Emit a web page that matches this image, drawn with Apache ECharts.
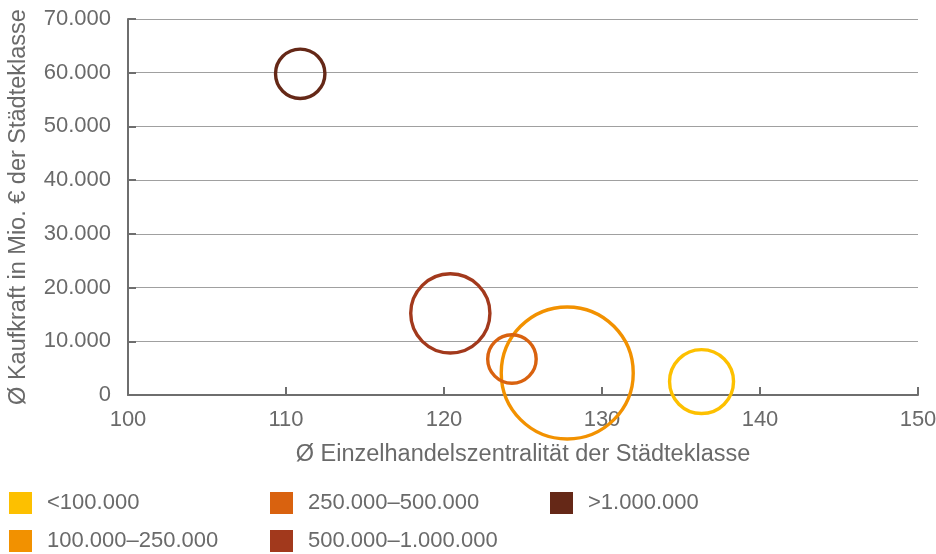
<!DOCTYPE html>
<html>
<head>
<meta charset="utf-8">
<script src="https://cdn.jsdelivr.net/npm/echarts@6/dist/echarts.min.js"></script>
<style>
  html, body { margin: 0; padding: 0; background: #ffffff; }
  #chart { width: 936px; height: 554px; }
</style>
</head>
<body>
<div id="chart"></div>
<script>
// Städteklassen (Einwohner)
const classes = ['<100.000', '100.000–250.000', '250.000–500.000', '500.000–1.000.000', '>1.000.000'];
// Ø Einzelhandelszentralität der Städteklasse
const centrality = [136.3, 127.8, 124.3, 120.4, 110.9];
// Ø Kaufkraft in Mio. € der Städteklasse
const purchasingPower = [2500, 4100, 6700, 15200, 59800];
// relative bubble weight (area-proportional)
const bubbleWeight = [23.5, 100, 13.5, 36, 14];

const colors = ['#FDC000', '#F29100', '#D9620F', '#A2391C', '#652817'];

const xAxisRange = { min: 100, max: 150, interval: 10 };
const yAxisRange = { min: 0, max: 70000, interval: 10000 };

const fontFamily = '"Liberation Sans", Arimo, Helvetica, Arial, sans-serif';
const textColor = '#6a6a6a';
const labelSize = 22;
const nameSize = 23.5;

function deNumber(v) {
  return String(v).replace(/\B(?=(\d{3})+(?!\d))/g, '.');
}

const series = classes.map((name, i) => ({
  name: name,
  type: 'scatter',
  data: [[centrality[i], purchasingPower[i], bubbleWeight[i]]],
  symbol: 'circle',
  symbolSize: d => 13.2 * Math.sqrt(d[2]),
  itemStyle: {
    color: 'rgba(0,0,0,0)',
    borderColor: colors[i],
    borderWidth: 3.4,
    opacity: 1
  },
  emphasis: { disabled: true },
  z: 3
}));

function legendData(idx) {
  return idx.map(i => ({
    name: classes[i],
    icon: 'rect',
    itemStyle: { color: colors[i], borderWidth: 0, opacity: 1 }
  }));
}

const legendCommon = {
  orient: 'vertical',
  top: 492,
  height: 62,
  padding: 0,
  itemWidth: 23,
  itemHeight: 22,
  itemGap: 16,
  selectedMode: false,
  textStyle: {
    fontFamily: fontFamily,
    fontSize: labelSize,
    color: textColor,
    padding: [0, 0, 0, 10]
  }
};

const chart = echarts.init(document.getElementById('chart'), null, { renderer: 'canvas' });
chart.setOption({
  backgroundColor: '#ffffff',
  animation: false,
  textStyle: { fontFamily: fontFamily },
  grid: { left: 128, right: 18, top: 19, bottom: 159, containLabel: false, outerBoundsMode: 'none' },
  xAxis: {
    type: 'value',
    min: xAxisRange.min,
    max: xAxisRange.max,
    interval: xAxisRange.interval,
    name: 'Ø Einzelhandelszentralität der Städteklasse',
    nameLocation: 'middle',
    nameGap: 48,
    nameTextStyle: { fontSize: nameSize, color: textColor, fontFamily: fontFamily },
    axisLine: { show: true, onZero: false, lineStyle: { color: '#6e6e6e', width: 2 } },
    axisTick: { show: true, inside: true, length: 8, lineStyle: { color: '#6e6e6e', width: 2 } },
    axisLabel: { fontSize: labelSize, color: textColor, margin: 14, fontFamily: fontFamily },
    splitLine: { show: false }
  },
  yAxis: {
    type: 'value',
    min: yAxisRange.min,
    max: yAxisRange.max,
    interval: yAxisRange.interval,
    name: 'Ø Kaufkraft in Mio. € der Städteklasse',
    nameLocation: 'middle',
    nameGap: 97,
    nameTextStyle: { fontSize: nameSize, color: textColor, fontFamily: fontFamily },
    axisLine: { show: true, lineStyle: { color: '#6e6e6e', width: 2 } },
    axisTick: { show: true, inside: true, length: 8, lineStyle: { color: '#6e6e6e', width: 2 } },
    axisLabel: { fontSize: labelSize, color: textColor, margin: 17, fontFamily: fontFamily, formatter: v => deNumber(v) },
    splitLine: { show: true, lineStyle: { color: '#a0a0a0', width: 1 } }
  },
  legend: [
    Object.assign({}, legendCommon, { left: 9, data: legendData([0, 1]) }),
    Object.assign({}, legendCommon, { left: 270, data: legendData([2, 3]) }),
    Object.assign({}, legendCommon, { left: 550, data: legendData([4]) })
  ],
  series: series
});
</script>
</body>
</html>
